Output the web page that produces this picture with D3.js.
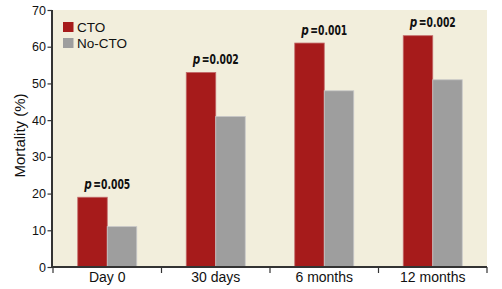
<!DOCTYPE html>
<html><head><meta charset="utf-8">
<script src="https://cdn.jsdelivr.net/npm/d3@7"></script>
<style>
body{margin:0;background:#fff;}
svg{display:block;}
</style></head>
<body><svg id="c" width="502" height="289"></svg>
<script>
const categories = ["Day 0", "30 days", "6 months", "12 months"];
const seriesNames = ["CTO", "No-CTO"];
const cto = [19, 53, 61, 63];
const noCto = [11, 41, 48, 51];
const pValues = ["0.005", "0.002", "0.001", "0.002"];
const yTicks = [0, 10, 20, 30, 40, 50, 60, 70];

const colors = {"CTO": "#a61b1b", "No-CTO": "#9e9e9e"};
const font = "'Liberation Sans', Arial, sans-serif";
const pfont = "'DejaVu Sans', sans-serif";

const svg = d3.select("#c");
const m = {l: 53, r: 15, t: 10, b: 22};
const W = 502, H = 289;
const x0 = d3.scaleBand().domain(categories).range([m.l, W - m.r]).paddingInner(0).paddingOuter(0);
const y = d3.scaleLinear().domain([0, 70]).range([H - m.b, m.t]);
const bw = 29.5;
const x1 = d3.scaleBand().domain(seriesNames).range([0, 2 * bw]);

svg.append("rect").attr("x", m.l).attr("y", m.t).attr("width", W - m.r - m.l).attr("height", y(0) - m.t).attr("fill", "#f2eedc");

const data = categories.map((c, i) => ({c, vals: [{k: "CTO", v: cto[i]}, {k: "No-CTO", v: noCto[i]}], p: pValues[i]}));

const g = svg.append("g");
const grp = g.selectAll("g.cat").data(data).join("g")
  .attr("transform", d => `translate(${x0(d.c) + (x0.bandwidth() - 2 * bw) / 2},0)`);
grp.selectAll("rect").data(d => d.vals).join("rect")
  .attr("x", d => x1(d.k))
  .attr("y", d => y(d.v))
  .attr("width", x1.bandwidth())
  .attr("height", d => y(0) - y(d.v))
  .attr("fill", d => colors[d.k])
  .attr("stroke", d => d.k === "CTO" ? "#c26a6a" : "#c8c8c8")
  .attr("stroke-width", 0.8);

// p labels: italic "p" + bold value, as two adjacent texts
const pl = grp.append("g")
  .attr("transform", d => `translate(${bw},${y(d.vals[0].v) - 8.5})`)
  .attr("font-family", pfont).attr("font-size", 13.5).attr("font-weight", "bold").attr("fill", "#111");
pl.append("text").attr("x", -23).attr("text-anchor", "start").attr("font-style", "italic")
  .attr("textLength", 7.5).attr("lengthAdjust", "spacingAndGlyphs").text("p");
pl.append("text").attr("x", -14).attr("text-anchor", "start")
  .attr("textLength", 37).attr("lengthAdjust", "spacingAndGlyphs")
  .text(d => "=" + d.p);

// y axis
const ya = svg.append("g").attr("transform", `translate(${m.l - 1},0)`)
  .call(d3.axisLeft(y).tickValues(yTicks).tickSize(4.5).tickPadding(1.5));
ya.select(".domain").attr("stroke", "#333").attr("stroke-width", 2).attr("d", `M0,${y(70)}V${y(0)}`);
ya.selectAll(".tick line").attr("stroke", "#333").attr("stroke-width", 1.2);
ya.selectAll(".tick text").attr("font-family", font).attr("font-size", 12.5).attr("fill", "#111");

// x axis
const xa = svg.append("g").attr("transform", `translate(0,${y(0)})`)
  .call(d3.axisBottom(x0).tickSize(0).tickPadding(5));
xa.select(".domain").attr("stroke", "#333").attr("stroke-width", 2).attr("d", `M${m.l - 2},0H${W - m.r}`);
xa.selectAll(".tick text").attr("font-family", font).attr("font-size", 14).attr("fill", "#111");
const bounds = categories.map(c => x0(c)).concat([W - m.r]);
xa.selectAll("line.bt").data(bounds).join("line").attr("class", "bt")
  .attr("x1", d => d).attr("x2", d => d).attr("y1", 0).attr("y2", 6)
  .attr("stroke", "#333").attr("stroke-width", 1.2);

// y label
svg.append("text").attr("transform", `translate(25,${(y(0) + y(70)) / 2 - 3}) rotate(-90)`)
  .attr("text-anchor", "middle").attr("font-family", font).attr("font-size", 15).attr("fill", "#111")
  .text("Mortality (%)");

// legend
const lg = svg.append("g").attr("transform", "translate(63,22)");
seriesNames.forEach((s, i) => {
  lg.append("rect").attr("x", 0).attr("y", i * 16).attr("width", 10.5).attr("height", 10).attr("fill", colors[s]);
  lg.append("text").attr("x", 14).attr("y", i * 16 + 9.8).attr("font-family", font).attr("font-size", 13.5).attr("fill", "#111").text(s);
});
</script></body></html>
